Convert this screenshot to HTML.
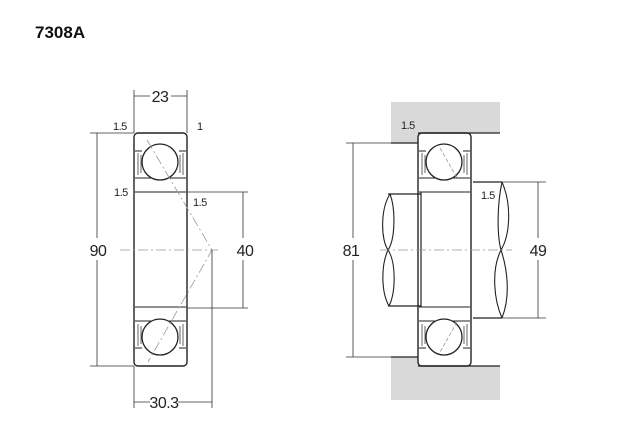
<!DOCTYPE html><html><head><style>body{margin:0;background:#fff}svg{display:block}</style></head><body>
<svg width="640" height="440" viewBox="0 0 640 440" xmlns="http://www.w3.org/2000/svg" font-family="Liberation Sans, sans-serif">
<rect width="640" height="440" fill="#fff"/>
<text x="35" y="38" font-size="17" font-weight="bold" fill="#111">7308A</text>
<defs>
<g id="brg">
<rect x="0" y="0" width="53" height="233" rx="4" fill="none" stroke="#222" stroke-width="1.4"/>
<path d="M1 18 H8 M45 18 H52 M1 45 H52 M1 59 H52 M1 174 H52 M1 188 H52 M1 215 H8 M45 215 H52" stroke="#222" fill="none" stroke-width="1.1"/>
<path d="M4 20 v22 M49 20 v22 M4 191 v22 M49 191 v22 M7 22 v18 M46 22 v18 M7 193 v18 M46 193 v18" stroke="#555" stroke-width="0.9"/>
<circle cx="26" cy="29" r="18" fill="#fff" stroke="#222" stroke-width="1.3"/>
<circle cx="26" cy="204" r="18" fill="#fff" stroke="#222" stroke-width="1.3"/>
</g>
</defs>
<g fill="none" stroke="#333" stroke-width="0.8">
<use href="#brg" x="134" y="133"/>
<path d="M147 140 L212 250 L148 362" stroke="#999" stroke-dasharray="10 3 2 3"/>
<path d="M120 250 H218" stroke="#999" stroke-dasharray="10 3 2 3"/>
<path d="M90 133 H134 M90 366 H134 M97 133 V238 M97 260 V366"/>
<path d="M134 90 V133 M187 90 V133 M134 96 H150 M171 96 H187"/>
<path d="M134 366 V408 M212 250 V408 M134 402 H150 M178 402 H212"/>
<path d="M187 192 H248 M187 308 H248 M243 192 V238 M243 260 V308"/>
<path d="M391 102 H500 V133 H418 V143 H391 Z" fill="#d9d9d9" stroke="none"/>
<path d="M391 400 H500 V366 H418 V357 H391 Z" fill="#d9d9d9" stroke="none"/>
<path d="M391 143 H418 M418 133 H500 M391 357 H418 M418 366 H500" stroke="#222" stroke-width="1.2"/>
<path d="M421 194 H388 M421 306 H388 M473 182 H502 M473 318 H502" stroke="#222" stroke-width="1.2"/>
<path d="M390 194 C380 210 381 240 388 250 C396 262 396 292 389 306 M390 194 C396 210 395 240 388 250 C381 265 381 292 389 306" stroke="#222" stroke-width="1.1"/>
<path d="M502 182 C512 205 510 235 501 250 C491 270 494 300 502 318 M502 182 C497 205 497 235 501 250 C507 268 511 295 502 318" stroke="#222" stroke-width="1.1"/>
<use href="#brg" x="418" y="133"/>
<path d="M421 192 V307" stroke="#222" stroke-width="1.2"/>
<path d="M440 148 L457 178 M457 322 L440 352" stroke="#999" stroke-dasharray="4 2"/>
<path d="M380 250 H512" stroke="#999" stroke-dasharray="10 3 2 3"/>
<path d="M346 143 H391 M346 357 H391 M353 143 V238 M353 260 V357"/>
<path d="M502 182 H546 M502 318 H546 M538 182 V238 M538 260 V318"/>
</g>
<g fill="#222" font-size="11" letter-spacing="-0.5">
<text x="113" y="130">1.5</text><text x="197" y="130">1</text>
<text x="114" y="196">1.5</text><text x="193" y="206">1.5</text>
<text x="401" y="129">1.5</text><text x="481" y="199">1.5</text>
</g>
<g fill="#222" font-size="16" text-anchor="middle" letter-spacing="-0.5">
<text x="160" y="102">23</text><text x="164" y="408">30.3</text>
<text x="98" y="256">90</text><text x="245" y="256">40</text>
<text x="351" y="256">81</text><text x="538" y="256">49</text>
</g>
</svg></body></html>
